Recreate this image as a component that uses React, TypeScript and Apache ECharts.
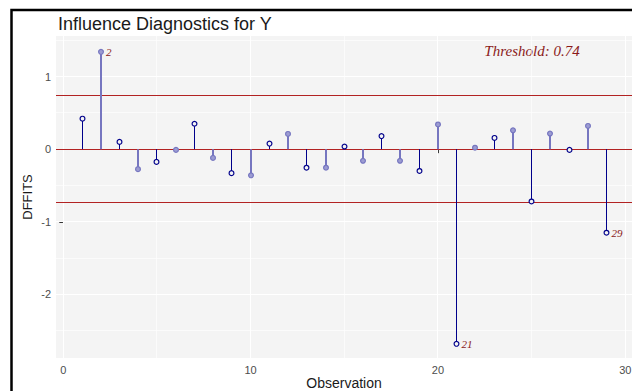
import React, { useEffect, useRef } from "react";
import * as echarts from "echarts";

const observations = [1, 2, 3, 4, 5, 6, 7, 8, 9, 10, 11, 12, 13, 14, 15, 16, 17, 18, 19, 20, 21, 22, 23, 24, 25, 26, 27, 28, 29];
const dffits = [0.42, 1.34, 0.1, -0.275, -0.175, -0.01, 0.35, -0.12, -0.33, -0.36, 0.077, 0.21, -0.255, -0.255, 0.036, -0.16, 0.18, -0.16, -0.3, 0.34, -2.68, 0.02, 0.155, 0.26, -0.72, 0.215, -0.01, 0.32, -1.15];
const threshold = 0.74;
const xTicks = [0, 10, 20, 30];
const yTicks = [-2, -1, 0, 1];
const xMinorGrid = [5, 15, 25];
const yMinorGrid = [-2.5, -1.5, -0.5, 0.5, 1.5];
const thresholdLines = [threshold, 0, -threshold];

const FONT = "Liberation Sans, Arial, sans-serif";
const SERIF = "Liberation Serif, Times New Roman, serif";

export default function App() {
  const ref = useRef<HTMLDivElement>(null);
  useEffect(() => {
    if (!ref.current) return;
    const chart = echarts.init(ref.current, undefined, { renderer: "svg" });
    const points = observations.map((o, i) => [o, dffits[i]]);
    const snap = (v: number) => Math.round(v - 0.5) + 0.5;

    const vGrid = [...xMinorGrid.map((v) => [v, 0.6]), ...xTicks.map((v) => [v, 1.1])];
    const hGrid = [...yMinorGrid.map((v) => [v, 0.6]), ...yTicks.map((v) => [v, 1.1])];

    chart.setOption({
      animation: false,
      backgroundColor: "#ffffff",
      title: {
        text: "Influence Diagnostics for Y",
        left: 53,
        top: 10,
        textStyle: { fontFamily: FONT, fontSize: 18, fontWeight: "normal", color: "#1a1a1a" },
      },
      grid: {
        left: 56,
        right: 0,
        top: 36,
        bottom: 33,
        show: true,
        backgroundColor: "#F4F4F4",
        borderWidth: 0,
        containLabel: false,
        outerBoundsMode: "none",
      },
      xAxis: {
        type: "value",
        min: -0.39,
        max: 30.36,
        axisLine: { show: false },
        axisTick: { show: true, customValues: xTicks, length: 4, lineStyle: { color: "#333333" } },
        axisLabel: { customValues: xTicks, color: "#4d4d4d", fontSize: 11, fontFamily: FONT, margin: 6 },
        splitLine: { show: false },
        name: "Observation",
        nameLocation: "middle",
        nameGap: 18,
        nameMoveOverlap: false,
        nameTextStyle: { fontFamily: FONT, fontSize: 14, color: "#1a1a1a" },
      },
      yAxis: {
        type: "value",
        min: -2.875,
        max: 1.558,
        axisLine: { show: false },
        axisTick: { show: true, customValues: yTicks, length: 4, lineStyle: { color: "#333333" } },
        axisLabel: { customValues: yTicks, color: "#4d4d4d", fontSize: 11, fontFamily: FONT, margin: 5 },
        splitLine: { show: false },
        name: "DFFITS",
        nameLocation: "middle",
        nameGap: 22,
        nameMoveOverlap: false,
        nameTextStyle: { fontFamily: FONT, fontSize: 13, color: "#1a1a1a" },
      },
      graphic: [
        {
          type: "rect",
          shape: { x: 11.5, y: 10, width: 660, height: 420 },
          style: { fill: "none", stroke: "#000000", lineWidth: 2.5 },
          silent: true,
        },
        {
          type: "text",
          x: 532,
          y: 51,
          style: {
            text: "Threshold: 0.74",
            font: "italic 15px " + SERIF,
            fill: "#8B1A1A",
            textAlign: "center",
            textVerticalAlign: "middle",
          },
        },
      ],
      series: [
        {
          type: "custom",
          z: 1,
          silent: true,
          data: vGrid,
          renderItem: (params: any, api: any) => {
            const cs = params.coordSys;
            const x = snap(api.coord([api.value(0), 0])[0]);
            return {
              type: "line",
              shape: { x1: x, y1: cs.y, x2: x, y2: cs.y + cs.height },
              style: { stroke: "#ffffff", lineWidth: api.value(1) },
            };
          },
        },
        {
          type: "custom",
          z: 1,
          silent: true,
          data: hGrid,
          renderItem: (params: any, api: any) => {
            const cs = params.coordSys;
            const y = snap(api.coord([0, api.value(0)])[1]);
            return {
              type: "line",
              shape: { x1: cs.x, y1: y, x2: cs.x + cs.width, y2: y },
              style: { stroke: "#ffffff", lineWidth: api.value(1) },
            };
          },
        },
        {
          type: "custom",
          z: 2,
          silent: true,
          data: thresholdLines.map((v) => [v]),
          renderItem: (params: any, api: any) => {
            const cs = params.coordSys;
            const y = snap(api.coord([0, api.value(0)])[1]);
            return {
              type: "line",
              shape: { x1: cs.x, y1: y, x2: cs.x + cs.width, y2: y },
              style: { stroke: "#B22222", lineWidth: 1 },
            };
          },
        },
        {
          type: "custom",
          z: 3,
          data: points,
          renderItem: (params: any, api: any) => {
            const x = api.value(0);
            const y = api.value(1);
            const p = api.coord([x, y]);
            const p0 = api.coord([x, 0]);
            const odd = x % 2 === 1;
            const px = odd ? snap(p[0]) : Math.round(p[0]);
            const color = odd ? "#00008B" : "#7676C0";
            const children: any[] = [
              {
                type: "line",
                shape: { x1: px, y1: p0[1], x2: px, y2: p[1] },
                style: { stroke: color, lineWidth: odd ? 1 : 2 },
              },
              {
                type: "circle",
                shape: { cx: px, cy: p[1], r: 2.4 },
                style: { fill: odd ? "#F4F4F4" : "#9C9CD2", stroke: color, lineWidth: 1.2 },
              },
            ];
            if (Math.abs(y) > threshold) {
              children.push({
                type: "text",
                x: px + 5,
                y: p[1],
                style: {
                  text: String(x),
                  font: "italic 11px " + SERIF,
                  fill: "#8B1A1A",
                  textVerticalAlign: "middle",
                },
              });
            }
            return { type: "group", children };
          },
        },
      ],
    });
    return () => chart.dispose();
  }, []);
  return (
    <div
      ref={ref}
      style={{ position: "fixed", left: 0, top: 0, width: 632, height: 391, background: "#fff" }}
    />
  );
}
